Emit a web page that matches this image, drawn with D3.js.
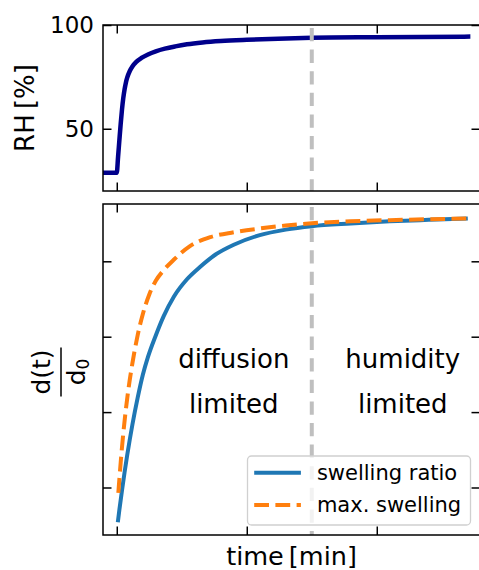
<!DOCTYPE html>
<html>
<head>
<meta charset="utf-8">
<script src="https://cdn.jsdelivr.net/npm/d3@7"></script>
<style>
body { margin: 0; background: #fff; }
svg text { font-family: "DejaVu Sans", sans-serif; fill: #000; }
</style>
</head>
<body>
<script>

var width = 479,
    height = 570;

// relative humidity in the chamber (top panel)
var rhTime = [-5.3, 0, 0.5, 1.0, 1.5, 2.0, 2.5, 3.0, 3.5, 4.0, 5.0, 6.0, 7.5, 9.5, 12, 15, 18.5, 22.5, 27, 33, 40, 50, 62, 75, 100, 136];
var rhValue = [28.8, 28.8, 36.5, 44.5, 52.3, 59.2, 64.8, 69.0, 72.2, 74.6, 77.8, 80.0, 82.2, 84.1, 85.8, 87.3, 88.6, 89.7, 90.7, 91.6, 92.3, 92.9, 93.4, 93.8, 94.1, 94.4];

// swelling ratio d(t)/d0 (bottom panel)
var swTime = [0.4, 1, 2, 3, 4, 5, 6, 8, 10, 12, 15, 18, 22, 27, 32, 38, 45, 55, 65, 75, 90, 105, 120, 135];
var swRatio = [1.054, 1.0704, 1.0961, 1.1202, 1.1427, 1.1636, 1.1832, 1.2185, 1.2492, 1.2732, 1.3017, 1.327, 1.3534, 1.3762, 1.3925, 1.409, 1.422, 1.4347, 1.442, 1.4466, 1.4502, 1.4530, 1.4550, 1.4568];

// maximum swelling for the current humidity
var maxTime = [0.6, 1.5, 2.5, 3.5, 4.5, 6, 8, 10, 12.5, 15, 18, 22, 28, 36, 45, 55, 65, 75, 90, 105, 120, 135];
var maxSwelling = [1.093, 1.133, 1.1716, 1.2037, 1.231, 1.2646, 1.3015, 1.3299, 1.3561, 1.3741, 1.3881, 1.4023, 1.4198, 1.4321, 1.4385, 1.4435, 1.4475, 1.4505, 1.4530, 1.4546, 1.4558, 1.4568];

var xTicks = [0, 50, 100];
var rhTicks = [50, 100];
var swTicks = [1.1, 1.2, 1.3, 1.4];

var switchTime = 75;
var regionTime = [45, 110];
var regionLines = [['diffusion', 'limited'], ['humidity', 'limited']];
var regionValue = [1.2585, 1.1985];

var seriesNames = ['swelling ratio', 'max. swelling'];
var colors = ['#1f77b4', '#ff7f0e'];

var left = 103, right = 480;
var topPanel = {y0: 25, y1: 191};
var botPanel = {y0: 204, y1: 535};
var tickLen = 8.5;

var svg = d3.select('body')
    .append('svg')
    .attr('width', width)
    .attr('height', height);

var x = d3.scaleLinear()
    .domain([-5.3, 139.7])
    .range([left, right]);

var yRh = d3.scaleLinear()
    .domain([20, 100])
    .range([topPanel.y1, topPanel.y0]);

var ySw = d3.scaleLinear()
    .domain([1.037, 1.476])
    .range([botPanel.y1, botPanel.y0]);

var clipIds = ['clipTop', 'clipBot'];
[topPanel, botPanel].forEach(function(p, i) {
    svg.append('clipPath')
        .attr('id', clipIds[i])
        .append('rect')
        .attr('x', left).attr('y', p.y0)
        .attr('width', right - left).attr('height', p.y1 - p.y0);
});

var line = function(xs, ys, yScale) {
    return d3.line()
        .x(function(d, i) { return x(xs[i]); })
        .y(function(d, i) { return yScale(ys[i]); })
        .curve(d3.curveMonotoneX)(xs);
};

var drawSwitch = function(p, clip) {
    svg.append('line')
        .attr('clip-path', 'url(#' + clip + ')')
        .attr('x1', x(switchTime)).attr('x2', x(switchTime))
        .attr('y1', p.y0 + 3).attr('y2', p.y1)
        .attr('stroke', '#bfbfbf')
        .attr('stroke-width', 4)
        .attr('stroke-dasharray', '13.3,8.3');
};

// ---- top panel
svg.append('path')
    .attr('clip-path', 'url(#clipTop)')
    .attr('d', line(rhTime, rhValue, yRh))
    .attr('fill', 'none')
    .attr('stroke', '#00008b')
    .attr('stroke-width', 4.5)
    .attr('stroke-linejoin', 'round');

drawSwitch(topPanel, 'clipTop');

// ---- bottom panel
drawSwitch(botPanel, 'clipBot');

svg.append('path')
    .attr('clip-path', 'url(#clipBot)')
    .attr('d', line(swTime, swRatio, ySw))
    .attr('fill', 'none')
    .attr('stroke', colors[0])
    .attr('stroke-width', 4);

svg.append('path')
    .attr('clip-path', 'url(#clipBot)')
    .attr('d', line(maxTime, maxSwelling, ySw))
    .attr('fill', 'none')
    .attr('stroke', colors[1])
    .attr('stroke-width', 4)
    .attr('stroke-dasharray', '14.8,6.4');

regionLines.forEach(function(lines, i) {
    lines.forEach(function(txt, j) {
        svg.append('text')
            .attr('x', x(regionTime[i]))
            .attr('y', ySw(regionValue[j]))
            .attr('text-anchor', 'middle')
            .style('font-size', '26px')
            .text(txt);
    });
});

// ---- axes with inward ticks on all four sides
var addAxis = function(axis, tx, ty, labels) {
    var g = svg.append('g')
        .attr('transform', 'translate(' + tx + ',' + ty + ')')
        .call(axis.tickSizeInner(-tickLen).tickSizeOuter(0).tickPadding(9));
    g.select('.domain').remove();
    g.selectAll('.tick line').attr('stroke', '#000').attr('stroke-width', 1.5);
    g.selectAll('.tick text').style('font-size', '23px').style('font-family', '"DejaVu Sans", sans-serif');
    if (!labels) g.selectAll('.tick text').remove();
    return g;
};

[topPanel, botPanel].forEach(function(p, i) {
    var yS = i === 0 ? yRh : ySw;
    var yT = i === 0 ? rhTicks : swTicks;
    addAxis(d3.axisBottom(x).tickValues(xTicks), 0, p.y1, false);
    addAxis(d3.axisTop(x).tickValues(xTicks), 0, p.y0, false);
    addAxis(d3.axisLeft(yS).tickValues(yT).tickFormat(d3.format('d')), left, 0, i === 0);
    addAxis(d3.axisRight(yS).tickValues(yT), right, 0, false);

    svg.append('rect')
        .attr('x', left).attr('y', p.y0)
        .attr('width', right - left).attr('height', p.y1 - p.y0)
        .attr('fill', 'none')
        .attr('stroke', '#000')
        .attr('stroke-width', 1.5);
});

// ---- legend
var legW = 223, legH = 69;
var leg = svg.append('g')
    .attr('transform', 'translate(' + (right - 9.5 - legW) + ',' + (botPanel.y1 - 10 - legH) + ')');
leg.append('rect')
    .attr('x', 0).attr('y', 0)
    .attr('width', legW).attr('height', legH)
    .attr('rx', 4)
    .attr('fill', '#fff')
    .attr('fill-opacity', 0.8)
    .attr('stroke', '#d0d0d0')
    .attr('stroke-width', 1.3);
seriesNames.forEach(function(name, i) {
    var ly = 16.7 + i * 32.3;
    leg.append('line')
        .attr('x1', 6.7).attr('x2', 53.4)
        .attr('y1', ly).attr('y2', ly)
        .attr('stroke', colors[i])
        .attr('stroke-width', 4)
        .attr('stroke-dasharray', i === 1 ? '14.8,6.4' : null);
    leg.append('text')
        .attr('x', 69.4).attr('y', ly)
        .attr('dy', '0.35em')
        .style('font-size', '21px')
        .text(name);
});

// ---- axis labels
svg.append('text')
    .attr('transform', 'translate(33.5,' + (topPanel.y0 + topPanel.y1) / 2 + ') rotate(-90)')
    .attr('text-anchor', 'middle')
    .style('font-size', '26px')
    .text('RH\u2009[%]');

svg.append('text')
    .attr('x', (left + right) / 2)
    .attr('y', 565)
    .attr('text-anchor', 'middle')
    .style('font-size', '25.5px')
    .text('time\u2009[min]');

var frac = svg.append('g')
    .attr('transform', 'translate(61,' + ((botPanel.y0 + botPanel.y1) / 2 + 2.5) + ') rotate(-90)');
frac.append('text')
    .attr('x', 0).attr('y', -11)
    .attr('text-anchor', 'middle')
    .style('font-size', '25px')
    .text('d(t)');
frac.append('line')
    .attr('x1', -24.5).attr('x2', 24.5)
    .attr('y1', 0).attr('y2', 0)
    .attr('stroke', '#000')
    .attr('stroke-width', 1.5);
var den = frac.append('text')
    .attr('x', 0).attr('y', 24)
    .attr('text-anchor', 'middle')
    .style('font-size', '25px');
den.append('tspan').text('d');
den.append('tspan')
    .attr('dy', 4)
    .style('font-size', '17px')
    .text('0');

</script>
</body>
</html>
